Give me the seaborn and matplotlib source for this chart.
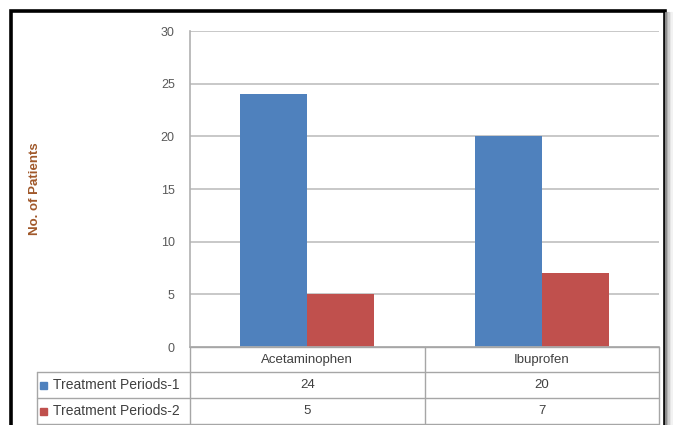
import matplotlib
matplotlib.use("Agg")
import matplotlib.pyplot as plt
from matplotlib.lines import Line2D
from matplotlib.patches import Rectangle
import seaborn as sns
import pandas as pd

categories = ["Acetaminophen", "Ibuprofen"]
series = ["Treatment Periods-1", "Treatment Periods-2"]
period1 = [24, 20]
period2 = [5, 7]
colors = ["#4f81bd", "#c0504d"]

W, H = 673, 425

df = pd.DataFrame({
    "drug": categories * 2,
    "series": [series[0]] * len(categories) + [series[1]] * len(categories),
    "patients": period1 + period2,
})

sns.set_style("white")
plt.rcParams["font.family"] = ["Liberation Sans", "DejaVu Sans"]

fig = plt.figure(figsize=(W / 100, H / 100), dpi=100)
fig.patch.set_facecolor("white")


def fx(px):
    return px / W


def fy(py):
    return 1 - py / H


def hline(x0, x1, y, **kw):
    fig.add_artist(Line2D([fx(x0), fx(x1)], [fy(y), fy(y)], transform=fig.transFigure, **kw))


def vline(x, y0, y1, **kw):
    fig.add_artist(Line2D([fx(x), fx(x)], [fy(y0), fy(y1)], transform=fig.transFigure, **kw))


# outer frame with a soft shadow on the right
for i, g in enumerate(["#8a8a8a", "#b0b0b0", "#cfcfcf", "#e4e4e4", "#f2f2f2"]):
    vline(666 + i * 1.5, 13, 430, color=g, lw=1.6)
fig.add_artist(Rectangle((fx(11), fy(430)), fx(665) - fx(11), fy(11) - fy(430),
                         transform=fig.transFigure, fill=False, ec="black", lw=2.6))

# plot area
ax = fig.add_axes([fx(190), fy(347), fx(659) - fx(190), fy(31) - fy(347)])
sns.barplot(data=df, x="drug", y="patients", hue="series", palette=colors,
            width=0.57, saturation=1, legend=False, linewidth=0, edgecolor="none", ax=ax)
ax.set_xlim(-0.5, len(categories) - 0.5)
ax.set_ylim(0, 30)
ax.set_yticks(range(0, 31, 5))
ax.set_xticks([])
ax.set_xlabel("")
ax.yaxis.grid(True, color="#c4c4c4", lw=1.3)
ax.set_axisbelow(True)
for s in ["top", "right"]:
    ax.spines[s].set_visible(False)
for s in ["left", "bottom"]:
    ax.spines[s].set_color("#b0b0b0")
    ax.spines[s].set_linewidth(1.2)
ax.tick_params(axis="y", length=0, pad=11, labelsize=9, labelcolor="#595959")
ax.set_ylabel("No. of Patients", color="#a0582a", fontsize=9.5, fontweight="bold")
ax.yaxis.set_label_coords(-0.318, 0.5)

# data table below the plot
fig.canvas.draw()
to_px = lambda xd: ax.transData.transform((xd, 0))[0]
col_edges = [to_px(i - 0.5) for i in range(len(categories) + 1)]
col_mid = [to_px(i) for i in range(len(categories))]
rows = [347, 372, 398, 424]
grid_kw = dict(color="#a6a6a6", lw=1.0)
hline(col_edges[0], col_edges[-1], rows[0], **grid_kw)
for y in rows[1:]:
    hline(37, col_edges[-1], y, **grid_kw)
vline(37, rows[1], rows[-1], **grid_kw)
for x in col_edges:
    vline(x, rows[0], rows[-1], **grid_kw)

txt_kw = dict(fontsize=9.5, color="#404040", va="center")
for cx, name in zip(col_mid, categories):
    fig.text(fx(cx), fy((rows[0] + rows[1]) / 2), name, ha="center", **txt_kw)

for r, (name, vals, c) in enumerate(zip(series, [period1, period2], colors)):
    yc = (rows[r + 1] + rows[r + 2]) / 2
    fig.add_artist(Rectangle((fx(40), fy(yc + 3.5)), fx(7), 7 / H,
                             transform=fig.transFigure, color=c))
    fig.text(fx(53), fy(yc), name, ha="left", **{**txt_kw, "fontsize": 10})
    for cx, v in zip(col_mid, vals):
        fig.text(fx(cx), fy(yc), str(v), ha="center", **txt_kw)

fig.savefig("out.png", dpi=100)
